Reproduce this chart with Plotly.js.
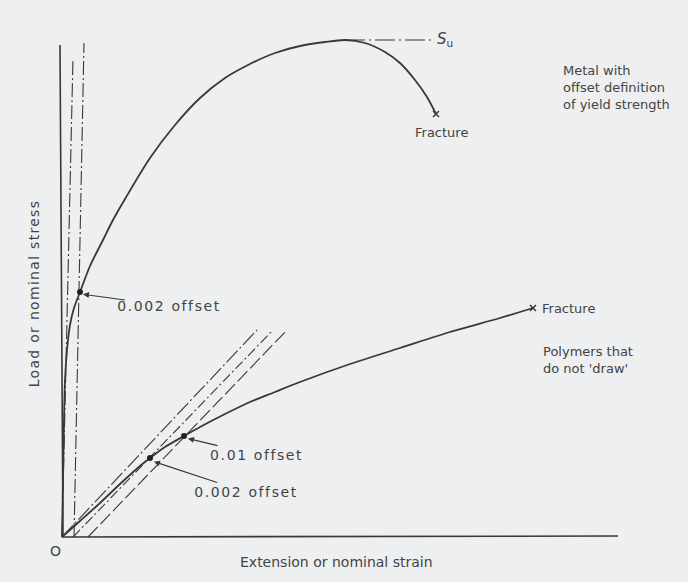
<!DOCTYPE html>
<html>
<head>
<meta charset="utf-8">
<script src="https://cdn.plot.ly/plotly-3.0.1.min.js"></script>
<style>
  html, body { margin: 0; padding: 0; background: #edeff0; }
  #chart { width: 688px; height: 582px; }
  g.annotation[data-index="0"] text,
  g.annotation[data-index="1"] text,
  g.annotation[data-index="2"] text { letter-spacing: 1.6px; }
  g.annotation[data-index="3"] text { letter-spacing: 1.3px; }
</style>
</head>
<body>
<div id="chart"></div>
<script>
// Arbitrary units: strain (x) and stress (y)
var metalStrain = [0, 1, 2, 3, 5, 8, 12, 18, 28, 41, 51, 63, 88, 113, 138, 163, 188, 213, 238, 263, 283, 303, 323, 338, 353, 365, 374];
var metalStress = [0, 57, 117, 157, 187, 212, 229, 245, 271, 297, 317, 338, 379, 412, 439, 459, 473, 484, 491, 495, 497, 494, 485, 474, 457, 440, 423];

var polyStrain = [0, 18, 38, 58, 78, 88, 103, 122, 138, 163, 188, 213, 238, 288, 338, 388, 438, 471];
var polyStress = [0, 16, 34, 53, 71, 79, 90, 101, 110, 123, 135, 145, 155, 173, 189, 205, 219, 229];

// Offset construction lines
var metalElasticX = [0, 11],  metalElasticY = [0, 479];
var metalOffsetX  = [12, 22], metalOffsetY  = [0, 494];
var polyElasticX  = [0, 195], polyElasticY  = [0, 207];
var polyOff002X   = [11, 211], polyOff002Y  = [0, 207];
var polyOff01X    = [26, 225], polyOff01Y   = [0, 207];
var suLineX = [283, 370], suLineY = [497, 497];

// Axis lines
var yAxisX = [1, -2], yAxisY = [0, 492];
var xAxisX = [0, 556], xAxisY = [0, 1];

// Offset points and fracture points
var metalYieldX = [18], metalYieldY = [245];
var polyYieldX = [88, 122], polyYieldY = [79, 101];
var fractureX = [374, 471], fractureY = [423, 229];

var ink = '#383838';
var txt = '#444444';
var FONT = 'DejaVu Sans, sans-serif';

function line(x, y, w, dash, spline) {
  var ln = {color: ink, width: w, dash: dash || 'solid'};
  if (spline) { ln.shape = 'spline'; ln.smoothing = 0.8; }
  return {x: x, y: y, type: 'scatter', mode: 'lines', hoverinfo: 'skip', line: ln, showlegend: false};
}

var traces = [
  line(yAxisX, yAxisY, 1.6),
  line(xAxisX, xAxisY, 1.6),
  line(metalElasticX, metalElasticY, 1.1, '14px,3px,2px,3px'),
  line(metalOffsetX, metalOffsetY, 1.1, '14px,3px,2px,3px'),
  line(polyElasticX, polyElasticY, 1.1, '16px,3px,2px,3px'),
  line(polyOff002X, polyOff002Y, 1.1, '10px,3px,2px,3px'),
  line(polyOff01X, polyOff01Y, 1.1, '14px,4px'),
  line(suLineX, suLineY, 1.1, '20px,4px,2px,4px'),
  line(metalStrain, metalStress, 1.8, null, true),
  line(polyStrain, polyStress, 1.8, null, true),
  {x: metalYieldX.concat(polyYieldX), y: metalYieldY.concat(polyYieldY), type: 'scatter', mode: 'markers',
   marker: {color: '#222', size: 6, symbol: 'circle'}, showlegend: false, hoverinfo: 'skip'},
  {x: fractureX, y: fractureY, type: 'scatter', mode: 'markers',
   marker: {color: ink, size: 6, symbol: 'x-thin', line: {color: ink, width: 1.5}}, showlegend: false, hoverinfo: 'skip'}
];

var f = {family: FONT, size: 13, color: txt};
var f14 = {family: FONT, size: 14, color: txt};
var annotations = [
  {text: '0.002 offset', x: metalYieldX[0] + 1, y: metalYieldY[0] - 2, ax: 107, ay: 231, axref: 'x', ayref: 'y',
   showarrow: true, arrowhead: 2, arrowsize: 1, arrowwidth: 1.2, arrowcolor: ink, standoff: 2, font: f14},
  {text: '0.01 offset', x: polyYieldX[1] + 2, y: polyYieldY[1] - 2, ax: 195, ay: 82, axref: 'x', ayref: 'y',
   showarrow: true, arrowhead: 2, arrowsize: 1, arrowwidth: 1.2, arrowcolor: ink, standoff: 2, font: f14},
  {text: '0.002 offset', x: polyYieldX[0] + 2, y: polyYieldY[0] - 3, ax: 184, ay: 45, axref: 'x', ayref: 'y',
   showarrow: true, arrowhead: 2, arrowsize: 1, arrowwidth: 1.2, arrowcolor: ink, standoff: 2, font: f14},
  {text: 'Load or nominal stress', x: -28, y: 243, textangle: -90, showarrow: false, font: f14},
  {text: 'Extension or nominal strain', x: 274, y: -25, showarrow: false, font: f14},
  {text: 'O', x: -7, y: -14, showarrow: false, font: f14},
  {text: 'Fracture', x: 379, y: 405, showarrow: false, font: f},
  {text: '<i>S</i><sub>u</sub>', x: 373, y: 498, xanchor: 'left', showarrow: false, font: {family: FONT, size: 15, color: txt}},
  {text: 'Metal with<br>offset definition<br>of yield strength', x: 499, y: 450, xanchor: 'left', align: 'left', showarrow: false, font: f},
  {text: 'Fracture', x: 478, y: 229, xanchor: 'left', showarrow: false, font: f},
  {text: 'Polymers that<br>do not \'draw\'', x: 479, y: 177, xanchor: 'left', align: 'left', showarrow: false, font: f}
];

var layout = {
  width: 688, height: 582,
  margin: {l: 0, r: 0, t: 0, b: 0, pad: 0},
  paper_bgcolor: '#edeff0', plot_bgcolor: '#edeff0',
  xaxis: {range: [-62, 626], visible: false, fixedrange: true},
  yaxis: {range: [-45, 537], visible: false, fixedrange: true},
  showlegend: false,
  annotations: annotations
};

Plotly.newPlot('chart', traces, layout, {displayModeBar: false, staticPlot: true});
</script>
</body>
</html>
